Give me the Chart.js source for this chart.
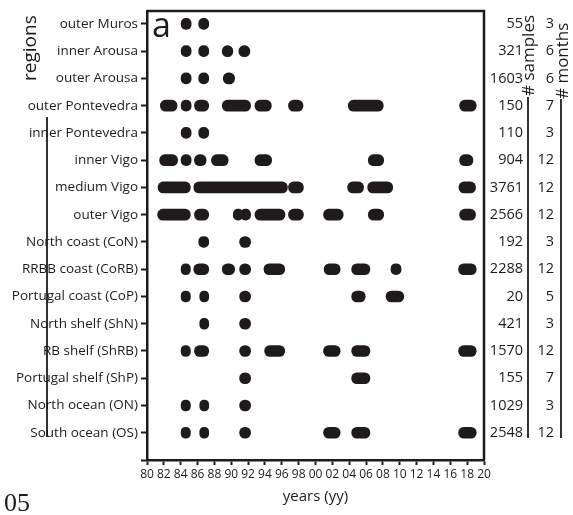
<!DOCTYPE html>
<html>
<head>
<meta charset="utf-8">
<script src="https://cdn.jsdelivr.net/npm/chart.js@4/dist/chart.umd.min.js"></script>
<style>
  html, body { margin: 0; padding: 0; background: #fff; }
  #wrap { width: 573px; height: 515px; }
</style>
</head>
<body>
<div id="wrap"><canvas id="myChart" width="573" height="515"></canvas></div>
<script>
// regions, top to bottom
const regions = ['outer Muros', 'inner Arousa', 'outer Arousa', 'outer Pontevedra', 'inner Pontevedra',
  'inner Vigo', 'medium Vigo', 'outer Vigo', 'North coast (CoN)', 'RRBB coast (CoRB)',
  'Portugal coast (CoP)', 'North shelf (ShN)', 'RB shelf (ShRB)', 'Portugal shelf (ShP)',
  'North ocean (ON)', 'South ocean (OS)'];
const samples = [55, 321, 1603, 150, 110, 904, 3761, 2566, 192, 2288, 20, 421, 1570, 155, 1029, 2548];
const months = [3, 6, 6, 7, 3, 12, 12, 12, 3, 12, 5, 3, 12, 7, 3, 12];
const yearLabels = ['80', '82', '84', '86', '88', '90', '92', '94', '96', '98', '00',
  '02', '04', '06', '08', '10', '12', '14', '16', '18', '20'];

// sampling periods per region, [from, to] in years since 1900
const periods = [
  [[84.05, 85.24], [86.14, 87.33]],
  [[84.05, 85.24], [86.14, 87.33], [88.93, 90.19], [90.9, 92.21]],
  [[84.05, 85.24], [86.14, 87.33], [89.05, 90.4]],
  [[81.58, 83.57], [84.05, 85.24], [85.63, 87.33], [88.93, 92.3], [92.81, 94.76], [96.79, 98.52], [103.88, 108.05], [117.1, 119.08]],
  [[84.05, 85.24], [86.14, 87.33]],
  [[81.5, 83.64], [84.05, 85.24], [85.63, 87.02], [87.65, 89.64], [92.81, 94.8], [106.26, 108.1], [117.1, 118.69]],
  [[81.31, 85.15], [85.55, 96.67], [96.79, 98.57], [103.81, 105.71], [106.19, 109.17], [117.02, 119.0]],
  [[81.26, 85.15], [85.63, 87.33], [90.24, 91.4], [91.1, 92.3], [92.81, 96.38], [96.79, 98.57], [100.95, 103.29], [106.26, 108.1], [117.1, 119.0]],
  [[86.14, 87.33], [90.99, 92.3]],
  [[84.05, 85.15], [85.55, 87.33], [88.93, 90.4], [90.99, 92.3], [93.88, 96.35], [101.02, 102.93], [104.29, 106.46], [108.96, 110.15], [116.98, 119.08]],
  [[84.05, 85.15], [86.26, 87.33], [90.99, 92.3], [104.29, 105.9], [108.37, 110.48]],
  [[86.26, 87.33], [90.99, 92.3]],
  [[84.05, 85.15], [85.63, 87.33], [90.99, 92.3], [93.96, 96.35], [100.95, 102.93], [104.29, 106.46], [116.98, 119.08]],
  [[90.99, 92.3], [104.29, 106.46]],
  [[84.05, 85.15], [86.26, 87.33], [90.99, 92.3]],
  [[84.05, 85.15], [86.26, 87.33], [90.99, 92.3], [100.95, 102.93], [104.29, 106.46], [116.98, 119.08]]
];

const ink = '#1f1b1c';
const fam = "'Open Sans', sans-serif";

// one dataset per n-th period of each row, all drawn on top of each other
function buildDatasets() {
  var maxLen = Math.max.apply(null, periods.map(function (p) { return p.length; }));
  var sets = [];
  for (var k = 0; k < maxLen; k++) {
    var data = [];
    periods.forEach(function (p, i) {
      if (p[k]) data.push({ x: p[k], y: i });
    });
    sets.push({
      data: data,
      backgroundColor: ink,
      borderWidth: 0,
      borderRadius: 5.5,
      borderSkipped: false,
      barThickness: 11,
      grouped: false
    });
  }
  return sets;
}

// extra text and lines around the plot
const extras = {
  id: 'extras',
  afterDraw: function (chart) {
    var ctx = chart.ctx;
    var area = chart.chartArea;
    var y = chart.scales.y;
    ctx.save();
    ctx.strokeStyle = ink;
    ctx.lineWidth = 2.5;
    ctx.beginPath();
    ctx.moveTo(area.left, area.top);
    ctx.lineTo(area.right, area.top);
    ctx.lineTo(area.right, area.bottom);
    ctx.stroke();

    ctx.fillStyle = ink;
    ctx.textBaseline = 'middle';
    ctx.font = '14.5px ' + fam;
    for (var i = 0; i < regions.length; i++) {
      var py = y.getPixelForValue(i);
      ctx.textAlign = 'right';
      ctx.fillText(String(samples[i]), 523, py);
      ctx.fillText(String(months[i]), 554, py);
    }

    // vertical guide lines
    ctx.lineWidth = 1.8;
    ctx.beginPath();
    ctx.moveTo(47, 117); ctx.lineTo(47, 437);
    ctx.moveTo(528, 97); ctx.lineTo(528, 438);
    ctx.moveTo(561, 99); ctx.lineTo(561, 438);
    ctx.stroke();

    // rotated labels
    function vtext(txt, x, yy, size) {
      ctx.save();
      ctx.translate(x, yy);
      ctx.rotate(-Math.PI / 2);
      ctx.textAlign = 'left';
      ctx.textBaseline = 'middle';
      ctx.font = size + 'px ' + fam;
      ctx.fillText(txt, 0, 0);
      ctx.restore();
    }
    vtext('regions', 31, 81, 19);
    vtext('# samples', 529, 96, 17);
    vtext('# months', 563, 99, 17);

    ctx.textAlign = 'left';
    ctx.textBaseline = 'alphabetic';
    ctx.font = '34px ' + fam;
    ctx.fillText('a', 152, 37);
    ctx.font = '26px "Liberation Serif", serif';
    ctx.fillText('05', 4, 511);
    ctx.restore();
  }
};

const ctx = document.getElementById('myChart').getContext('2d');
const myChart = new Chart(ctx, {
  type: 'bar',
  data: { datasets: buildDatasets() },
  options: {
    indexAxis: 'y',
    responsive: false,
    animation: false,
    layout: { padding: { left: 0, right: 89, top: 8, bottom: 0 } },
    plugins: { legend: { display: false }, tooltip: { enabled: false } },
    scales: {
      x: {
        type: 'linear',
        min: 80,
        max: 120,
        offset: false,
        afterFit: function (s) { s.height = 55; },
        grid: { display: true, drawOnChartArea: false, drawTicks: true, tickLength: 5, tickWidth: 2, color: ink, offset: false },
        border: { display: true, width: 2.5, color: ink },
        ticks: {
          stepSize: 2,
          autoSkip: false,
          maxRotation: 0,
          padding: 2,
          color: ink,
          font: { family: fam, size: 12 },
          callback: function (v, i) { return yearLabels[i]; }
        },
        title: {
          display: true,
          text: 'years (yy)',
          color: ink,
          font: { family: fam, size: 15 },
          padding: { top: 0, bottom: 9 }
        }
      },
      y: {
        type: 'linear',
        reverse: true,
        min: -0.47,
        max: 16,
        offset: false,
        afterFit: function (s) { s.width = 147; },
        afterBuildTicks: function (s) {
          var t = regions.map(function (r, i) { return { value: i }; });
          t.push({ value: 16 });
          s.ticks = t;
        },
        grid: { display: true, drawOnChartArea: false, drawTicks: true, tickLength: 6, tickWidth: 2, color: ink, offset: false },
        border: { display: true, width: 2.5, color: ink },
        ticks: {
          autoSkip: false,
          padding: 3,
          color: ink,
          font: { family: fam, size: 13.5 },
          callback: function (v) { return regions[v] || ''; }
        }
      }
    }
  },
  plugins: [extras]
});
</script>
</body>
</html>
